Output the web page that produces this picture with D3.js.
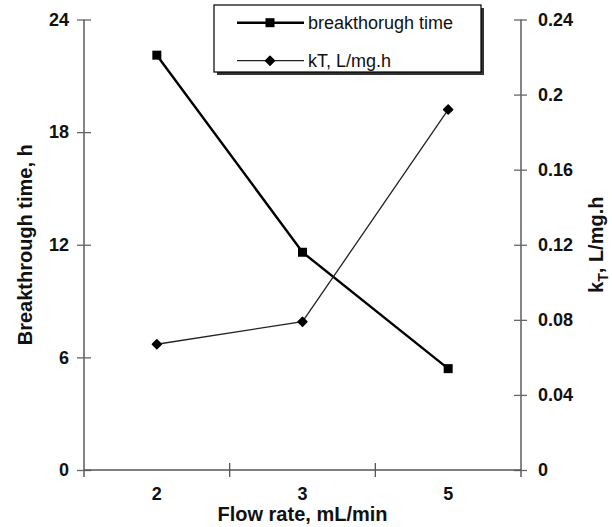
<!DOCTYPE html>
<html><head><meta charset="utf-8">
<script src="https://cdn.jsdelivr.net/npm/d3@7/dist/d3.min.js"></script>
<style>body{margin:0;background:#fff}svg{display:block}text{font-family:Arial,"Liberation Sans",sans-serif}</style>
</head><body><div id="c"></div>
<script>
const categories = ["2", "3", "5"];
const breakthroughTime = [22.1, 11.6, 5.4];
const kT = [0.067, 0.079, 0.192];
const leftTicks = [0, 6, 12, 18, 24];
const rightTicks = [0, 0.04, 0.08, 0.12, 0.16, 0.2, 0.24];
const seriesNames = ["breakthorugh time", "kT, L/mg.h"];

const W = 612, H = 527;
const L = 84, R = 521, T = 19.5, B = 470;
const axisColor = "#666";

const svg = d3.select("#c").append("svg").attr("width", W).attr("height", H);

const x = d3.scaleBand().domain(categories).range([L, R]).padding(0);
const yL = d3.scaleLinear().domain([0, 24]).range([B, T]);
const yR = d3.scaleLinear().domain([0, 0.24]).range([B, T]);

// left axis
const gL = svg.append("g").attr("transform", `translate(${L},0)`)
  .call(d3.axisLeft(yL).tickValues(leftTicks).tickFormat(d3.format("d")).tickSize(7).tickPadding(8));
gL.select(".domain").remove();
gL.selectAll(".tick line").attr("x1", -7).attr("x2", 7).attr("stroke", axisColor).attr("stroke-width", 1.3);
gL.selectAll(".tick text").attr("font-size", 18).attr("font-weight", "bold").attr("fill", "#111").attr("x", -15);
svg.append("line").attr("x1", L).attr("x2", L).attr("y1", T).attr("y2", B + 7).attr("stroke", axisColor).attr("stroke-width", 1.6);

// right axis
const gR = svg.append("g").attr("transform", `translate(${R},0)`)
  .call(d3.axisRight(yR).tickValues(rightTicks).tickFormat(d => d === 0 ? "0" : String(+d.toFixed(2))).tickSize(7));
gR.select(".domain").remove();
gR.selectAll(".tick line").attr("x1", -7).attr("x2", 6).attr("stroke", axisColor).attr("stroke-width", 1.3);
gR.selectAll(".tick text").attr("font-size", 18).attr("font-weight", "bold").attr("fill", "#111").attr("x", 17);
svg.append("line").attr("x1", R).attr("x2", R).attr("y1", T).attr("y2", B + 7).attr("stroke", axisColor).attr("stroke-width", 1.6);

// bottom axis
const gB = svg.append("g").attr("transform", `translate(0,${B})`)
  .call(d3.axisBottom(x).tickSize(0).tickPadding(17));
gB.select(".domain").remove();
gB.selectAll(".tick text").attr("font-size", 18).attr("font-weight", "bold").attr("fill", "#111");
svg.append("line").attr("x1", L).attr("x2", R).attr("y1", B).attr("y2", B).attr("stroke", "#555").attr("stroke-width", 1.6);
const bounds = categories.slice(1).map(c => x(c));
svg.selectAll(".xtick").data(bounds).enter().append("line")
  .attr("x1", d => d).attr("x2", d => d).attr("y1", B - 7).attr("y2", B + 7)
  .attr("stroke", "#555").attr("stroke-width", 1.3);

// axis titles
svg.append("text").attr("x", (L + R) / 2).attr("y", 521).attr("text-anchor", "middle")
  .attr("font-size", 20).attr("font-weight", "bold").attr("fill", "#111").text("Flow rate, mL/min");
svg.append("text").attr("transform", `translate(32,${(T + B) / 2}) rotate(-90)`).attr("text-anchor", "middle")
  .attr("font-size", 20).attr("font-weight", "bold").attr("fill", "#111").text("Breakthrough time, h");
const rt = svg.append("text").attr("transform", `translate(603,${(T + B) / 2}) rotate(-90)`).attr("text-anchor", "middle")
  .attr("font-size", 20).attr("font-weight", "bold").attr("fill", "#111");
rt.append("tspan").text("k");
rt.append("tspan").attr("font-size", 14).attr("dy", 5).text("T");
rt.append("tspan").attr("dy", -5).text(", L/mg.h");

const cx = d => x(d) + x.bandwidth() / 2;

// breakthrough line
const btData = categories.map((c, i) => ({c, v: breakthroughTime[i]}));
svg.append("path").datum(btData)
  .attr("d", d3.line().x(d => cx(d.c)).y(d => yL(d.v)))
  .attr("fill", "none").attr("stroke", "#000").attr("stroke-width", 2.4);
svg.selectAll(".sq").data(btData).enter().append("rect")
  .attr("x", d => cx(d.c) - 4.5).attr("y", d => yL(d.v) - 4.5).attr("width", 9).attr("height", 9).attr("fill", "#000");

// kT line
const kData = categories.map((c, i) => ({c, v: kT[i]}));
svg.append("path").datum(kData)
  .attr("d", d3.line().x(d => cx(d.c)).y(d => yR(d.v)))
  .attr("fill", "none").attr("stroke", "#222").attr("stroke-width", 1.3);
const diamond = d3.symbol().type(d3.symbolSquare).size(40);
svg.selectAll(".dm").data(kData).enter().append("path")
  .attr("transform", d => `translate(${cx(d.c)},${yR(d.v)}) rotate(45)`).attr("d", diamond)
  .attr("fill", "#000").attr("stroke", "#000").attr("stroke-width", 1.5).attr("stroke-linejoin", "round");

// legend
const lg = svg.append("g");
lg.append("rect").attr("x", 217).attr("y", 8).attr("width", 267).attr("height", 67).attr("fill", "#333");
lg.append("rect").attr("x", 214).attr("y", 5).attr("width", 267).attr("height", 67).attr("fill", "#fff").attr("stroke", "#000").attr("stroke-width", 1.2);
const rows = [22.7, 60.7];
lg.append("line").attr("x1", 237).attr("x2", 304).attr("y1", rows[0]).attr("y2", rows[0]).attr("stroke", "#000").attr("stroke-width", 2.4);
lg.append("rect").attr("x", 270 - 4.5).attr("y", rows[0] - 4.5).attr("width", 9).attr("height", 9).attr("fill", "#000");
lg.append("line").attr("x1", 237).attr("x2", 304).attr("y1", rows[1]).attr("y2", rows[1]).attr("stroke", "#222").attr("stroke-width", 1.3);
lg.append("path").attr("transform", `translate(270,${rows[1]}) rotate(45)`).attr("d", diamond)
  .attr("fill", "#000").attr("stroke", "#000").attr("stroke-width", 1.5).attr("stroke-linejoin", "round");
seriesNames.forEach((n, i) => {
  lg.append("text").attr("x", 308).attr("y", rows[i]).attr("dy", "0.35em").attr("font-size", 18).attr("fill", "#111").text(n);
});
</script></body></html>
